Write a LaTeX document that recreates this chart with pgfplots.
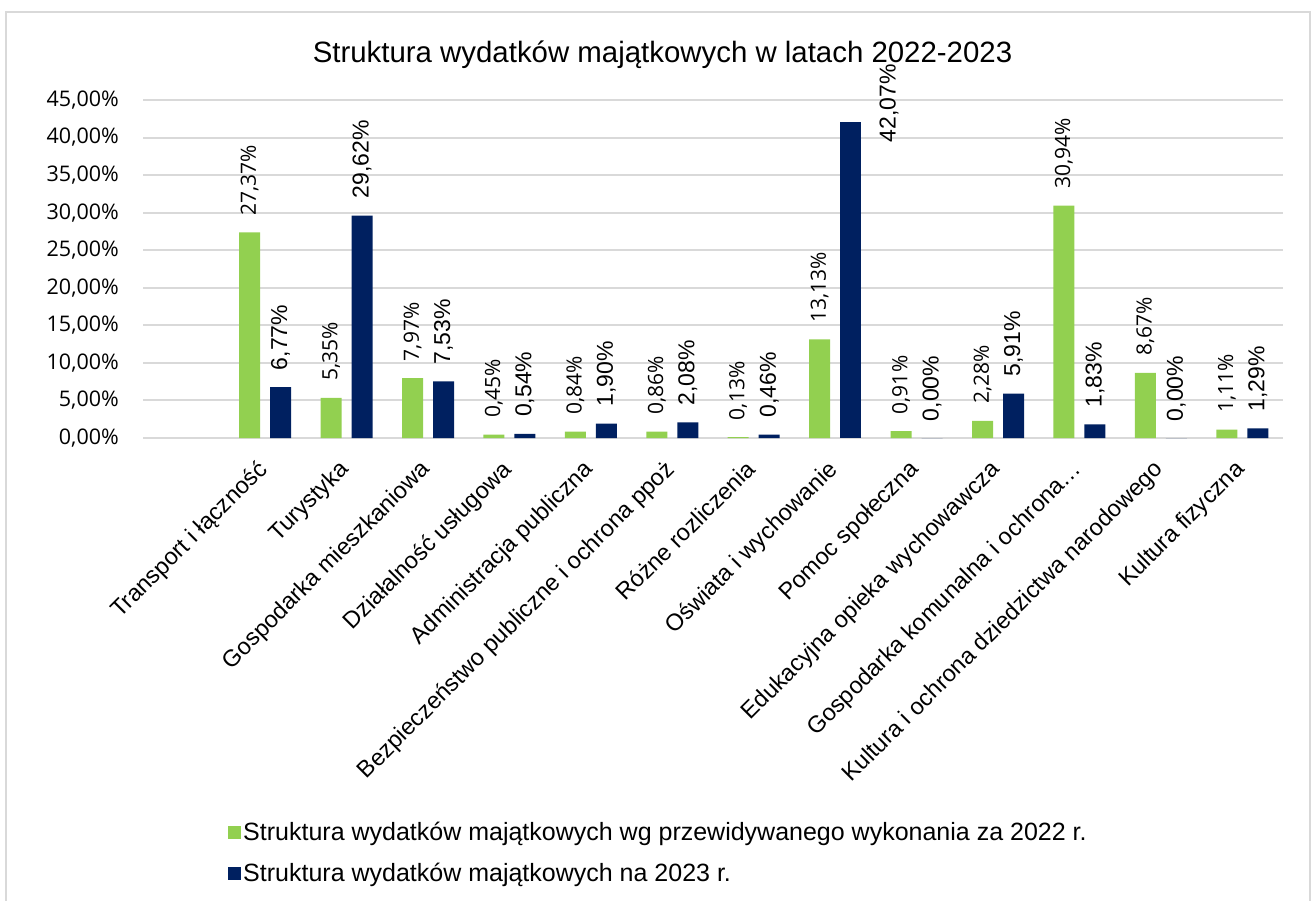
\documentclass[border=0pt]{standalone}
\usepackage{fontspec}
\setmainfont{Liberation Sans}
\newfontfamily\opensans{Open Sans}
\usepackage{pgfplots}
\pgfplotsset{compat=1.18}
\definecolor{cgreen}{HTML}{92D050}
\definecolor{cnavy}{HTML}{002060}
\definecolor{cgrid}{HTML}{D9D9D9}
\begin{document}
\begin{tikzpicture}[x=1pt,y=1pt]
\useasboundingbox (0,0) rectangle (1314,-900);
\draw[cgrid, line width=1.5pt] (6,-12) rectangle (1310,-910);
\node[font=\fontsize{29.4}{30}\selectfont, anchor=base] at (662.5,-62) {Struktura wydatków majątkowych w latach 2022-2023};
\begin{axis}[
 at={(143pt,-438pt)}, anchor=south west,
 scale only axis, width=1140pt, height=338pt,
 xmin=-1.5, xmax=12.5, ymin=0, ymax=45,
 ybar, bar width=21pt,
 clip=false,
 axis line style={draw=none},
 tick style={draw=none},
 ytick={0,5,...,45},
 ymajorgrids, grid style={cgrid, line width=2pt},
 yticklabel style={font=\opensans\fontsize{21.5}{22}\selectfont, inner sep=0pt, xshift=-24pt, /pgf/number format/.cd, fixed, fixed zerofill, precision=2, use comma, assume math mode=true},
 yticklabel={\pgfmathprintnumber{\tick}\%},
 xtick={0,...,12},
 xticklabels={Transport i łączność, Turystyka, Gospodarka mieszkaniowa, Działalność usługowa, Administracja publiczna, Bezpieczeństwo publiczne i ochrona ppoż, Różne rozliczenia, Oświata i wychowanie, Pomoc społeczna, Edukacyjna opieka wychowawcza, Gospodarka komunalna i ochrona…, Kultura i ochrona dziedzictwa narodowego, Kultura fizyczna},
 xticklabel style={font=\fontsize{23.5}{23.5}\selectfont, inner sep=0pt, xshift=-9pt, yshift=-16pt, rotate=45, anchor=north east},
 legend style={at={(axis description cs:0.0746,-1.130)}, anchor=north west, draw=none, fill=none, font=\fontsize{25}{25}\selectfont, row sep=17pt, inner sep=0pt},
 legend cell align=left,
 nodes near coords={\pgfmathprintnumber[fixed,fixed zerofill,precision=2,use comma,assume math mode=true]{\pgfplotspointmeta}\%},
]
\addplot[fill=cgreen, draw=none, bar shift=-15.5pt,
 every node near coord/.append style={font=\opensans\fontsize{21}{21}\selectfont, rotate=90, anchor=west, inner sep=0pt, outer xsep=17pt},
 legend image code/.code={\fill[cgreen] (0pt,-6.5pt) rectangle (13pt,6.5pt);}]
 coordinates {(0,27.37) (1,5.35) (2,7.97) (3,0.45) (4,0.84) (5,0.86) (6,0.13) (7,13.13) (8,0.91) (9,2.28) (10,30.94) (11,8.67) (12,1.11)};
\addlegendentry{Struktura wydatków majątkowych wg przewidywanego wykonania za 2022 r.}
\addplot[fill=cnavy, draw=none, bar shift=15.5pt,
 every node near coord/.append style={font=\fontsize{23}{23}\selectfont, rotate=90, anchor=west, inner sep=0pt, outer xsep=17pt},
 legend image code/.code={\fill[cnavy] (0pt,-6.5pt) rectangle (13pt,6.5pt);}]
 coordinates {(0,6.77) (1,29.62) (2,7.53) (3,0.54) (4,1.90) (5,2.08) (6,0.46) (8,0.00) (9,5.91) (10,1.83) (11,0.00) (12,1.29)};
\addlegendentry{Struktura wydatków majątkowych na 2023 r.}
\addplot[fill=cnavy, draw=none, bar shift=15.5pt, forget plot,
 every node near coord/.append style={font=\fontsize{23}{23}\selectfont, rotate=90, anchor=north west, inner sep=0pt, outer xsep=-20pt, outer ysep=29pt}]
 coordinates {(7,42.07)};
\end{axis}
\end{tikzpicture}
\end{document}
